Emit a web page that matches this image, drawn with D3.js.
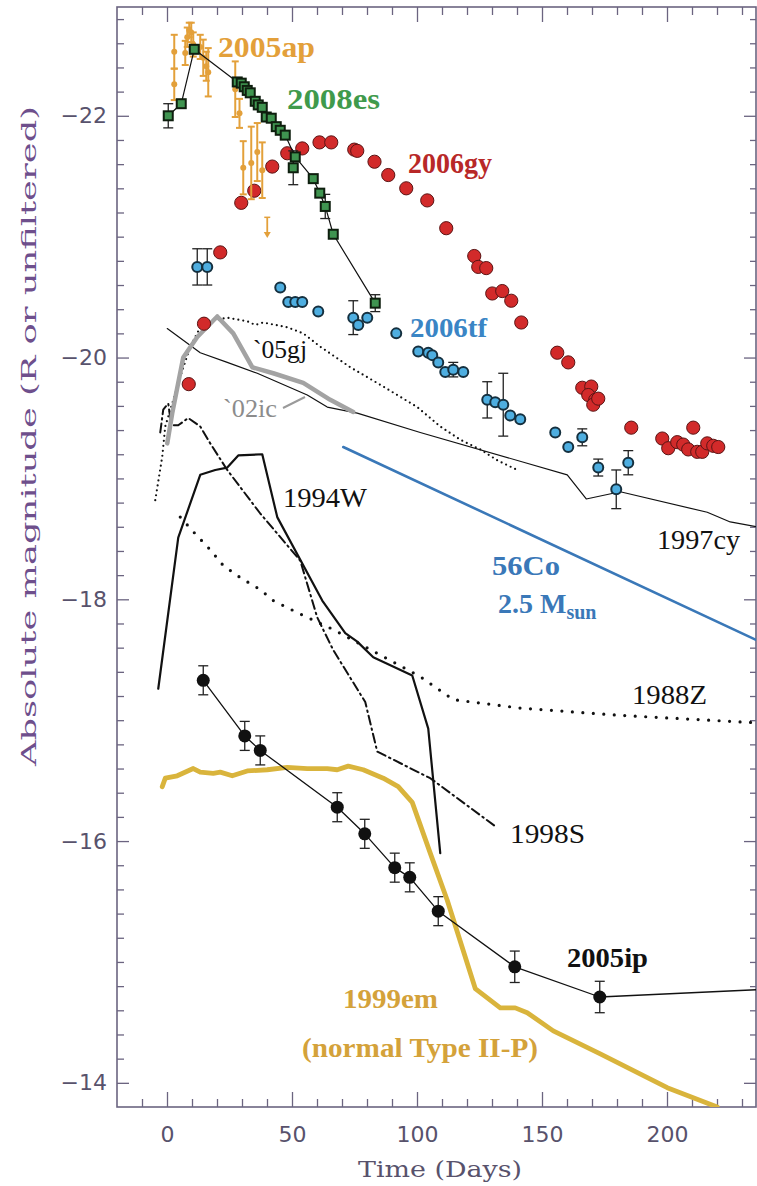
<!DOCTYPE html>
<html><head><meta charset="utf-8">
<script src="https://cdn.jsdelivr.net/npm/d3@7"></script>
<style>body{margin:0;background:#fff}</style>
</head><body>
<svg id="chart" width="757" height="1186"></svg>
<script>
// ---------------- DATA (day, absolute magnitude, error) ----------------
const xMajorTicks = [0, 50, 100, 150, 200];
const yLabelTicks = [-22, -20, -18, -16, -14];

const sn2005ap = [
  [2.9,-22.53,0.14],[2.9,-22.26,0.13],[7.3,-22.52,0.10],[8.1,-22.65,0.08],[8.9,-22.71,0.06],
  [9.7,-22.69,0.08],[10.5,-22.59,0.10],[13.3,-22.57,0.10],[14.5,-22.48,0.15],[15.7,-22.41,0.12],
  [16.5,-22.36,0.20],[27.3,-22.22,0.23],[29.0,-22.02,0.12],[30.5,-21.57,0.22],[33.7,-21.61,0.30],
  [36.1,-21.70,0.24],[38.1,-21.55,0.23]
];
const sn2005apLimit = [[40.1,-21.16,-20.99]];

const sn2008es = [
  [0.5,-22.00,0.10],[5.7,-22.10,0],[10.9,-22.55,0],[28.1,-22.28,0],[29.7,-22.27,0],[30.9,-22.24,0],
  [32.1,-22.21,0],[33.3,-22.19,0],[35.3,-22.12,0],[36.5,-22.09,0],[38.1,-22.07,0],[39.7,-21.99,0],
  [41.7,-21.98,0],[43.7,-21.91,0],[45.3,-21.88,0],[47.3,-21.84,0],[51.3,-21.66,0],[58.5,-21.48,0],
  [61.1,-21.36,0],[63.3,-21.25,0.10],[66.5,-21.02,0],[83.3,-20.45,0.07]
];
const sn2008esOffLine = [[50.5,-21.57,0.14]];

const sn2006gy = [
  [8.7,-19.78],[14.8,-20.28],[21.3,-20.87],[29.7,-21.28],[34.9,-21.38],[42.1,-21.58],[48.1,-21.69],
  [54.1,-21.73],[61.0,-21.78],[65.7,-21.78],[74.9,-21.72],[76.1,-21.71],[83.0,-21.62],[88.5,-21.51],
  [95.7,-21.40],[104.1,-21.30],[111.7,-21.07],[122.9,-20.84],[124.5,-20.75],[127.7,-20.74],
  [130.1,-20.53],[134.1,-20.55],[137.7,-20.47],[141.7,-20.29],[156.1,-20.04],[160.5,-19.96],
  [166.1,-19.75],[169.7,-19.76],[168.5,-19.69],[171.3,-19.65],[170.5,-19.61],[172.5,-19.66],
  [185.7,-19.42],[198.1,-19.33],[200.5,-19.25],[204.1,-19.30],[206.5,-19.28],[208.5,-19.24],
  [210.5,-19.42],[212.1,-19.22],[214.1,-19.22],[216.1,-19.29],[218.5,-19.27],[220.5,-19.26]
];

const sn2006tf = [
  [12.1,-20.75,0.15],[16.1,-20.75,0.15],[45.3,-20.58,0],[48.5,-20.46,0],[51.3,-20.46,0],[54.1,-20.46,0],
  [60.5,-20.38,0],[74.5,-20.33,0.14],[76.5,-20.27,0],[80.1,-20.33,0],[91.7,-20.20,0],[100.5,-20.05,0],
  [104.5,-20.04,0],[106.1,-20.02,0],[108.5,-19.96,0],[111.3,-19.88,0],[114.5,-19.90,0.06],[118.5,-19.88,0],
  [128.1,-19.65,0.15],[131.3,-19.63,0],[134.5,-19.61,0.26],[137.3,-19.52,0],[141.3,-19.49,0],
  [155.3,-19.38,0],[160.5,-19.26,0],[166.1,-19.34,0.07],[172.5,-19.09,0.07],[179.7,-18.91,0.16],
  [184.5,-19.13,0.10]
];

const sn2005ip = [
  [14.5,-17.33,0.12],[31.1,-16.87,0.12],[37.3,-16.75,0.12],[68.1,-16.28,0.12],[79.1,-16.06,0.12],
  [91.1,-15.78,0.12],[97.1,-15.70,0.12],[108.5,-15.42,0.12],[139.1,-14.96,0.13],[173.1,-14.71,0.13]
];
const sn2005ipTail = [[235.6,-14.77]];

const sn2005gj = [
  [-4.7,-18.82],[-1.9,-19.18],[-0.7,-19.43],[2.1,-19.62],[5.3,-19.84],[9.3,-20.09],[13.3,-20.25],
  [19.3,-20.31],[24.1,-20.33],[32.1,-20.30],[35.3,-20.27],[38.5,-20.29],[48.1,-20.25],[54.5,-20.20],
  [61.3,-20.09],[73.3,-19.92],[86.5,-19.76],[100.1,-19.59],[109.3,-19.43],[117.3,-19.32],
  [125.3,-19.24],[132.1,-19.15],[140.1,-19.07]
];
const sn2002ic = [
  [0.1,-19.29],[2.1,-19.54],[6.5,-20.00],[12.1,-20.17],[20.1,-20.34],[26.5,-20.20],[34.1,-19.92],
  [42.5,-19.87],[54.5,-19.79],[65.3,-19.65],[74.5,-19.55]
];
const sn1997cy = [
  [0.1,-20.24],[13.3,-20.04],[24.1,-19.96],[36.1,-19.87],[56.1,-19.69],[64.1,-19.59],[76.1,-19.54],
  [101.3,-19.38],[160.1,-19.03],[167.7,-18.83],[181.3,-18.89],[216.1,-18.72],[225.3,-18.64],[236.1,-18.60]
];
const co56 = [[70.5,-19.26],[236.1,-17.66]];
const sn1994W = [
  [-3.5,-17.26],[4.5,-18.51],[13.3,-19.03],[19.3,-19.07],[24.1,-19.09],[28.5,-19.19],[38.1,-19.20],
  [44.1,-18.68],[62.1,-17.99],[71.3,-17.72],[76.1,-17.65],[82.5,-17.52],[98.1,-17.37],[104.5,-16.93],
  [109.3,-15.90]
];
const sn1998S = [
  [-2.7,-19.38],[-1.5,-19.57],[0.5,-19.62],[1.7,-19.44],[4.5,-19.44],[8.5,-19.50],[13.3,-19.43],
  [17.3,-19.29],[24.1,-19.07],[37.3,-18.71],[53.3,-18.32],[60.1,-17.85],[66.5,-17.58],[79.3,-17.15],
  [84.1,-16.74],[105.3,-16.52],[132.1,-16.11]
];
const sn1988Z = [
  [5.3,-18.68],[10.5,-18.56],[17.3,-18.41],[22.5,-18.28],[29.3,-18.18],[37.3,-18.08],[42.5,-17.99],
  [52.1,-17.89],[66.5,-17.75],[85.3,-17.54],[101.3,-17.36],[114.5,-17.17],[141.3,-17.10],
  [181.3,-17.04],[234.5,-16.98]
];
const sn1999em = [
  [-1.9,-16.45],[-0.7,-16.52],[4.1,-16.54],[10.5,-16.60],[13.3,-16.57],[18.5,-16.56],[21.3,-16.57],
  [26.1,-16.54],[32.1,-16.58],[40.1,-16.59],[48.1,-16.61],[56.1,-16.60],[64.1,-16.60],[68.1,-16.59],
  [72.5,-16.62],[78.5,-16.59],[86.5,-16.52],[92.5,-16.45],[98.1,-16.32],[105.3,-15.90],[112.1,-15.51],
  [123.3,-14.78],[133.3,-14.62],[139.3,-14.62],[144.1,-14.58],[154.5,-14.43],[173.3,-14.24],
  [200.1,-13.96],[220.1,-13.80]
];

// ---------------- LAYOUT ----------------
const svg = d3.select("#chart");
const L = 117, R = 756, T = 7, B = 1107;
const x = d3.scaleLinear().domain([-20, 235.6]).range([L, R]);
const y = d3.scaleLinear().domain([-13.8, -22.9]).range([B, T]);

const axisColor = "#6b6480";
const tickTextColor = "#58526c";

svg.append("rect").attr("width", 757).attr("height", 1186).attr("fill", "#fff");
svg.append("defs").append("clipPath").attr("id", "plot")
  .append("rect").attr("x", L).attr("y", T).attr("width", R - L).attr("height", B - T);

const xMinor = d3.range(-10, 236, 10).filter(v => v % 50 !== 0);
const yMinor = d3.range(-22.8, -13.9, 0.2).map(v => +v.toFixed(1)).filter(v => !yLabelTicks.includes(v));

function styleAxis(g) {
  g.select(".domain").remove();
  g.selectAll("line").attr("stroke", axisColor).attr("stroke-width", 1.3);
  g.selectAll("text").attr("fill", tickTextColor)
    .attr("font-family", "DejaVu Sans, sans-serif").attr("font-size", 22);
}
svg.append("g").attr("transform", `translate(0,${B})`)
  .call(d3.axisBottom(x).tickValues(xMajorTicks).tickSizeInner(-15).tickSizeOuter(0).tickPadding(19).tickFormat(d3.format("d")))
  .call(styleAxis);
svg.append("g").attr("transform", `translate(0,${B})`)
  .call(d3.axisBottom(x).tickValues(xMinor).tickSizeInner(-8).tickSizeOuter(0).tickFormat(""))
  .call(styleAxis);
svg.append("g").attr("transform", `translate(0,${T})`)
  .call(d3.axisTop(x).tickValues(xMajorTicks).tickSizeInner(-15).tickSizeOuter(0).tickFormat(""))
  .call(styleAxis);
svg.append("g").attr("transform", `translate(0,${T})`)
  .call(d3.axisTop(x).tickValues(xMinor).tickSizeInner(-8).tickSizeOuter(0).tickFormat(""))
  .call(styleAxis);
svg.append("g").attr("transform", `translate(${L},0)`)
  .call(d3.axisLeft(y).tickValues(yLabelTicks).tickSizeInner(-12).tickSizeOuter(0).tickPadding(10).tickFormat(d3.format("d")))
  .call(styleAxis);
svg.append("g").attr("transform", `translate(${L},0)`)
  .call(d3.axisLeft(y).tickValues(yMinor).tickSizeInner(-7).tickSizeOuter(0).tickFormat(""))
  .call(styleAxis);
svg.append("g").attr("transform", `translate(${R},0)`)
  .call(d3.axisRight(y).tickValues(yLabelTicks).tickSizeInner(-12).tickSizeOuter(0).tickFormat(""))
  .call(styleAxis);
svg.append("g").attr("transform", `translate(${R},0)`)
  .call(d3.axisRight(y).tickValues(yMinor).tickSizeInner(-6).tickSizeOuter(0).tickFormat(""))
  .call(styleAxis);

svg.append("rect").attr("x", L).attr("y", T).attr("width", R - L).attr("height", B - T)
  .attr("fill", "none").attr("stroke", axisColor).attr("stroke-width", 1.6);

// axis titles
svg.append("text").text("Time (Days)")
  .attr("x", 440).attr("y", 1177).attr("text-anchor", "middle")
  .attr("font-family", "DejaVu Serif, serif").attr("font-size", 23)
  .attr("textLength", 164).attr("lengthAdjust", "spacingAndGlyphs")
  .attr("fill", tickTextColor);
svg.append("text").text("Absolute magnitude (R or unfiltered)")
  .attr("transform", "translate(36,436) rotate(-90)").attr("text-anchor", "middle")
  .attr("font-family", "DejaVu Serif, serif").attr("font-size", 20)
  .attr("textLength", 660).attr("lengthAdjust", "spacingAndGlyphs")
  .attr("fill", "#6e4f8c");

// ---------------- MARKS ----------------
const plot = svg.append("g").attr("clip-path", "url(#plot)");
const line = d3.line().x(d => x(d[0])).y(d => y(d[1]));

function drawLine(data, stroke, width, dash) {
  plot.append("path").datum(data).attr("d", line)
    .attr("fill", "none").attr("stroke", stroke).attr("stroke-width", width)
    .attr("stroke-linejoin", "round").attr("stroke-linecap", "round")
    .attr("stroke-dasharray", dash || null);
}
function errorBars(data, color, width, cap) {
  const g = plot.append("g").attr("stroke", color).attr("stroke-width", width);
  data.filter(d => d[2] > 0).forEach(d => {
    const cx = x(d[0]), y1 = y(d[1] - d[2]), y2 = y(d[1] + d[2]);
    g.append("line").attr("x1", cx).attr("x2", cx).attr("y1", y1).attr("y2", y2);
    g.append("line").attr("x1", cx - cap).attr("x2", cx + cap).attr("y1", y1).attr("y2", y1);
    g.append("line").attr("x1", cx - cap).attr("x2", cx + cap).attr("y1", y2).attr("y2", y2);
  });
}

drawLine(sn1988Z, "#111", 3.2, "0,10.5");
drawLine(sn1998S, "#111", 2, "9,4,1.5,4");
drawLine(sn1994W, "#111", 2.2);
drawLine(sn1997cy, "#111", 1.2);
drawLine(sn2005gj, "#111", 2.2, "0,5");
drawLine(sn2002ic, "#a3a3a3", 4.5);
drawLine(co56, "#3a78b8", 2.6);
drawLine(sn1999em, "#d9b43c", 4.8);

// 2005ip
drawLine(sn2005ip.concat(sn2005ipTail), "#111", 1.3);
errorBars(sn2005ip, "#222", 1.3, 5);
plot.append("g").selectAll("circle").data(sn2005ip).join("circle")
  .attr("cx", d => x(d[0])).attr("cy", d => y(d[1])).attr("r", 6.5).attr("fill", "#111");

// 2006gy
plot.append("g").selectAll("circle").data(sn2006gy).join("circle")
  .attr("cx", d => x(d[0])).attr("cy", d => y(d[1])).attr("r", 6.6)
  .attr("fill", "#d22a2a").attr("stroke", "#5a1414").attr("stroke-width", 1);

// 2005ap
errorBars(sn2005ap, "#e3a03a", 2, 3.5);
plot.append("g").selectAll("circle").data(sn2005ap).join("circle")
  .attr("cx", d => x(d[0])).attr("cy", d => y(d[1])).attr("r", 3).attr("fill", "#e3a03a");
sn2005apLimit.forEach(d => {
  const cx = x(d[0]), y1 = y(d[1]), y2 = y(d[2]);
  plot.append("line").attr("x1", cx).attr("x2", cx).attr("y1", y1).attr("y2", y2 - 4)
    .attr("stroke", "#e3a03a").attr("stroke-width", 1.8);
  plot.append("line").attr("x1", cx - 3).attr("x2", cx + 3).attr("y1", y1).attr("y2", y1)
    .attr("stroke", "#e3a03a").attr("stroke-width", 1.5);
  plot.append("path").attr("d", `M${cx - 3.5},${y2 - 6}L${cx + 3.5},${y2 - 6}L${cx},${y2}Z`).attr("fill", "#e3a03a");
});

// 2008es
drawLine(sn2008es, "#111", 1.2);
errorBars(sn2008es.concat(sn2008esOffLine), "#222", 1.3, 5);
plot.append("g").selectAll("rect").data(sn2008es.concat(sn2008esOffLine)).join("rect")
  .attr("x", d => x(d[0]) - 4.5).attr("y", d => y(d[1]) - 4.5).attr("width", 9).attr("height", 9)
  .attr("fill", "#3f9450").attr("stroke", "#0e1e0e").attr("stroke-width", 2);

// 2006tf
errorBars(sn2006tf, "#222", 1.3, 5);
plot.append("g").selectAll("circle").data(sn2006tf).join("circle")
  .attr("cx", d => x(d[0])).attr("cy", d => y(d[1])).attr("r", 5)
  .attr("fill", "#4eaee0").attr("stroke", "#15303f").attr("stroke-width", 2);

// ---------------- LABELS ----------------
const labels = [
  {t:"2005ap", d:20.4, m:-22.49, w:97, bold:true, c:"#e3a03a", s:29},
  {t:"2008es", d:48.0, m:-22.06, w:93, bold:true, c:"#3f9a4c", s:29},
  {t:"2006gy", d:96.4, m:-21.53, w:84, bold:true, c:"#b82828", s:29},
  {t:"2006tf", d:97.2, m:-20.17, w:77, bold:true, c:"#3a85c5", s:28},
  {t:"`05gj", d:34.4, m:-20.00, w:54, bold:false, c:"#111", s:26},
  {t:"`02ic", d:22.4, m:-19.51, w:54, bold:false, c:"#8c8c8c", s:26},
  {t:"1997cy", d:196, m:-18.42, w:83, bold:false, c:"#111", s:28},
  {t:"1994W", d:46.4, m:-18.76, w:84, bold:false, c:"#111", s:28},
  {t:"1998S", d:137.2, m:-15.98, w:75, bold:false, c:"#111", s:28},
  {t:"1988Z", d:186, m:-17.13, w:75, bold:false, c:"#111", s:28},
  {t:"2005ip", d:160, m:-14.96, w:81, bold:true, c:"#111", s:28},
  {t:"1999em", d:70.4, m:-14.62, w:95, bold:true, c:"#d4a23a", s:28},
  {t:"(normal Type II-P)", d:54, m:-14.21, w:236, bold:true, c:"#d4a23a", s:28},
  {t:"56Co", d:130, m:-18.20, w:68, bold:true, c:"#3a78b8", s:28}
];
labels.forEach(l => {
  svg.append("text").text(l.t).attr("x", x(l.d)).attr("y", y(l.m))
    .attr("font-family", "Liberation Serif, Times New Roman, serif")
    .attr("font-weight", l.bold ? "bold" : "normal").attr("font-size", l.s)
    .attr("textLength", l.w).attr("lengthAdjust", "spacingAndGlyphs")
    .attr("fill", l.c);
});
const msun = svg.append("text").attr("x", x(132.4)).attr("y", y(-17.89))
  .attr("font-family", "Liberation Serif, Times New Roman, serif").attr("font-weight", "bold")
  .attr("font-size", 28).attr("fill", "#3a78b8");
msun.append("tspan").text("2.5 M");
msun.append("tspan").text("sun").attr("font-size", 20).attr("dy", 6);
svg.append("line").attr("x1", 283).attr("y1", 408).attr("x2", 305).attr("y2", 397)
  .attr("stroke", "#9a9a9a").attr("stroke-width", 2);
</script>
</body></html>
